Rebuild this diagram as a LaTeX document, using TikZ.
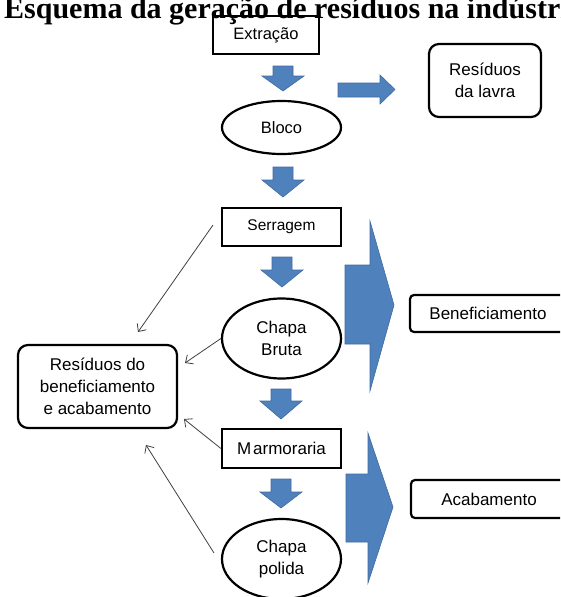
\documentclass[tikz,border=0pt]{standalone}
\usepackage{fontspec}
\setmainfont{Liberation Sans}
\newfontfamily\titlefont{Liberation Serif}
\usetikzlibrary{shapes.geometric,arrows.meta}
\definecolor{blkfill}{HTML}{4F81BD}
\definecolor{blkdraw}{HTML}{3F6A9E}
\definecolor{thin}{HTML}{404040}
\tikzset{
  lbl/.style={font=\fontsize{17}{22}\selectfont, align=center, text=black},
  sqbox/.style={lbl, draw=black, line width=2.2pt, rectangle, inner sep=0pt},
  rbox/.style={sqbox, rounded corners=10pt},
  obox/.style={lbl, draw=black, line width=2.2pt, ellipse, inner sep=0pt},
  blk/.style={fill=blkfill, draw=blkdraw, line width=0.6pt, line join=miter},
  thinarrow/.style={draw=thin, line width=0.8pt, -{Straight Barb[length=6pt,width=11pt]}}
}
\newcommand\blkdown[4]{% x centre, top y, head start y, tip y
  \filldraw[blk] (#1-10,#2) -- (#1+10,#2) -- (#1+10,#3) -- (#1+21,#3) -- (#1,#4)
    -- (#1-21,#3) -- (#1-10,#3) -- cycle;}
\begin{document}
\begin{tikzpicture}[x=1pt,y=-1pt]
\useasboundingbox (0,0) rectangle (560,597);
\clip (0,0) rectangle (560,597);
% title
\node[anchor=base west, inner sep=0pt, font=\titlefont\bfseries\fontsize{30}{30}\selectfont] (title) at (4,18) {Esquema da geração de resíduos na indústria};
% main column
\node[sqbox, minimum width=106pt, minimum height=38pt, font=\fontsize{16.5}{20}\selectfont] (extr) at (266,35) {Extração};
\node[rbox, minimum width=112pt, minimum height=73pt] (lavra) at (485,80.5) {Resíduos\\da lavra};
\node[obox, minimum width=119pt, minimum height=53pt, font=\fontsize{16.5}{20}\selectfont] (bloco) at (281.5,127.5) {Bloco};
\node[sqbox, minimum width=119pt, minimum height=38pt, font=\fontsize{15.5}{20}\selectfont] (serr) at (281.5,227) {Serragem};
\node[obox, minimum width=119pt, minimum height=80pt] (bruta) at (281.5,338.5) {Chapa\\Bruta};
\node[sqbox, minimum width=119pt, minimum height=39pt] (marm) at (281.5,448.5) {M\kern2pt armoraria};
\node[obox, minimum width=119pt, minimum height=80pt] (polida) at (281.5,559) {Chapa\\polida};
\node[rbox, minimum width=159pt, minimum height=83pt] (resid) at (97.5,386.5) {Resíduos do\\beneficiamento\\e acabamento};
\node[sqbox, rounded corners=4pt, minimum width=156pt, minimum height=37pt] (benef) at (488,313.5) {Beneficiamento};
\node[sqbox, rounded corners=4pt, minimum width=156pt, minimum height=38pt] (acab) at (489,499) {Acabamento};
% block arrows
\blkdown{283}{66}{76}{91}
\blkdown{283}{167}{180}{197}
\blkdown{282}{257}{270}{287}
\blkdown{281}{389}{401}{419}
\blkdown{281}{479}{492}{508}
\filldraw[blk] (338,83) -- (380,83) -- (380,75) -- (395,89.5) -- (380,104) -- (380,97) -- (338,97) -- cycle;
\filldraw[blk] (345,265) -- (370,265) -- (370,221) -- (394,305) -- (370,391) -- (370,344) -- (345,344) -- cycle;
\filldraw[blk] (346,474) -- (368,474) -- (368,433) -- (393,507) -- (368,583) -- (368,542) -- (346,542) -- cycle;
% thin arrows
\coordinate (s1) at (213,225);
\coordinate (e1) at (138,332);
\coordinate (e2) at (185,363);
\coordinate (e3) at (184,419);
\coordinate (s4) at (214,553);
\coordinate (e4) at (146,445);
\draw[thinarrow] (s1) -- (e1);
\draw[thinarrow] (bruta.west) -- (e2);
\draw[thinarrow] (marm.west) -- (e3);
\draw[thinarrow] (s4) -- (e4);
\end{tikzpicture}
\end{document}
